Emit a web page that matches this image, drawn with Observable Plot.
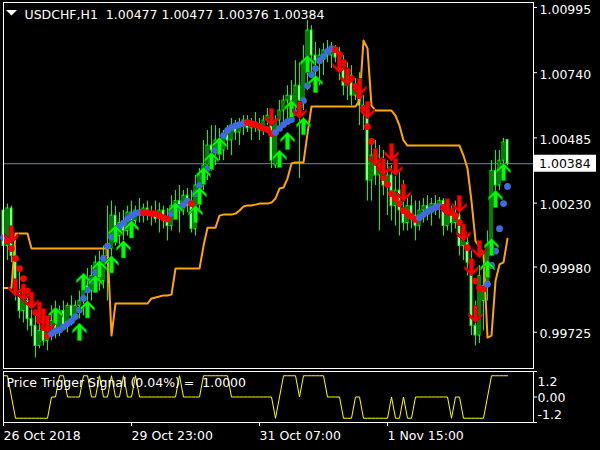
<!DOCTYPE html>
<html>
<head>
<meta charset="utf-8">
<script src="https://cdn.jsdelivr.net/npm/d3@7"></script>
<script src="https://cdn.jsdelivr.net/npm/@observablehq/plot@0.6"></script>
<style>
  body { margin: 0; background: #000; }
  #wrap { position: relative; width: 600px; height: 450px; overflow: hidden; background: #000; }
  #main, #sub { position: absolute; left: 0; }
  #main { top: 0; }
  #sub { top: 369px; }
  #tri { position: absolute; left: 6px; top: 10px; }
</style>
</head>
<body>
<div id="wrap">
  <div id="main"></div>
  <div id="sub"></div>
  <svg id="tri" width="12" height="6"><polygon points="0,0 11,0 5.5,5.5" fill="white"/></svg>
</div>
<script>
const titleText = "USDCHF,H1\u00a0 1.00477 1.00477 1.00376 1.00384";
const subTitle = "Price Trigger Signal (0.04%) =\u00a0 1.0000";
const priceTicks = [1.00995, 1.00740, 1.00485, 1.00230, 0.99980, 0.99725];
const lastClose = 1.00384;
const timeTickBars = [0, 32, 64, 96];
const timeLabels = ["26 Oct 2018", "29 Oct 23:00", "31 Oct 07:00", "1 Nov 15:00"];

const open = [
1.00201,1.00062,1.00209,1.00023,0.99886,0.99808,0.99847,0.99777,0.99750,0.99671,
0.99730,0.99691,0.99750,0.99769,0.99730,0.99808,0.99750,0.99828,0.99789,0.99828,
0.99847,0.99906,0.99886,0.99945,0.99997,0.99925,1.00023,1.00050,1.00181,1.00101,
1.00152,1.00121,1.00193,1.00160,1.00201,1.00181,1.00209,1.00181,1.00193,1.00168,
1.00201,1.00160,1.00140,1.00218,1.00238,1.00201,1.00259,1.00238,1.00129,1.00299,
1.00338,1.00377,1.00455,1.00436,1.00475,1.00436,1.00494,1.00475,1.00522,1.00506,
1.00533,1.00553,1.00522,1.00545,1.00533,1.00514,1.00553,1.00572,1.00377,1.00553,
1.00592,1.00631,1.00650,1.00611,1.00689,1.00631,1.00787,1.00905,1.00807,1.00787,
1.00807,1.00827,1.00807,1.00834,1.00799,1.00748,1.00689,1.00729,1.00650,1.00689,
1.00611,1.00592,1.00318,1.00416,1.00338,1.00396,1.00299,1.00338,1.00218,1.00279,
1.00201,1.00152,1.00218,1.00181,1.00140,1.00201,1.00218,1.00193,1.00226,1.00209,
1.00238,1.00140,1.00201,1.00152,1.00181,1.00062,1.00074,0.99997,0.99750,0.99712,
0.99847,0.99906,1.00062,1.00355,1.00299,1.00396,1.00477];
const high = [
1.00238,1.00226,1.00218,1.00062,0.99966,0.99906,0.99886,0.99847,0.99808,0.99769,
0.99789,0.99769,0.99828,0.99847,0.99828,0.99847,0.99839,0.99867,0.99847,0.99886,
0.99925,0.99974,0.99986,1.00023,1.00042,1.00062,1.00218,1.00238,1.00218,1.00193,
1.00201,1.00218,1.00238,1.00218,1.00248,1.00226,1.00238,1.00218,1.00238,1.00230,
1.00218,1.00209,1.00259,1.00279,1.00299,1.00279,1.00287,1.00279,1.00338,1.00365,
1.00475,1.00514,1.00533,1.00533,1.00522,1.00514,1.00533,1.00561,1.00553,1.00561,
1.00572,1.00572,1.00561,1.00584,1.00561,1.00572,1.00600,1.00592,1.00572,1.00631,
1.00650,1.00689,1.00709,1.00787,1.00779,1.00846,1.00944,1.00924,1.00858,1.00834,
1.00854,1.00866,1.00858,1.00846,1.00838,1.00807,1.00779,1.00768,1.00717,1.00740,
1.00650,1.00611,1.00455,1.00475,1.00455,1.00436,1.00396,1.00377,1.00338,1.00355,
1.00318,1.00259,1.00259,1.00238,1.00238,1.00248,1.00259,1.00248,1.00259,1.00252,
1.00248,1.00238,1.00218,1.00238,1.00209,1.00140,1.00101,1.00042,0.99847,0.99986,
0.99966,1.00121,1.00396,1.00436,1.00436,1.00483,1.00477];
const low = [
1.00042,1.00005,0.99997,0.99847,0.99777,0.99761,0.99730,0.99707,0.99624,0.99660,
0.99671,0.99652,0.99691,0.99699,0.99707,0.99730,0.99722,0.99750,0.99769,0.99777,
0.99789,0.99828,0.99847,0.99878,0.99886,0.99894,0.99847,1.00005,1.00062,1.00062,
1.00082,1.00101,1.00121,1.00129,1.00152,1.00152,1.00160,1.00140,1.00152,1.00113,
1.00129,1.00082,1.00121,1.00181,1.00113,1.00181,1.00193,1.00113,1.00101,1.00201,
1.00279,1.00318,1.00355,1.00377,1.00396,1.00396,1.00436,1.00416,1.00475,1.00455,
1.00494,1.00506,1.00475,1.00506,1.00475,1.00494,1.00533,1.00365,1.00365,1.00514,
1.00533,1.00553,1.00592,1.00584,1.00326,1.00592,1.00670,1.00729,1.00709,1.00689,
1.00729,1.00779,1.00756,1.00779,1.00709,1.00650,1.00631,1.00611,1.00631,1.00533,
1.00514,1.00238,1.00238,1.00299,1.00121,1.00259,1.00181,1.00160,1.00140,1.00101,
1.00121,1.00121,1.00129,1.00082,1.00121,1.00152,1.00160,1.00140,1.00181,1.00168,
1.00101,1.00121,1.00113,1.00129,1.00023,1.00005,0.99945,0.99712,0.99671,0.99681,
0.99730,0.99847,1.00023,1.00218,1.00279,1.00338,1.00376];
const close = [
1.00062,1.00209,1.00023,0.99886,0.99808,0.99847,0.99777,0.99750,0.99671,0.99730,
0.99691,0.99750,0.99769,0.99730,0.99808,0.99750,0.99828,0.99789,0.99828,0.99847,
0.99906,0.99886,0.99945,0.99997,0.99925,1.00023,1.00050,1.00181,1.00101,1.00152,
1.00121,1.00193,1.00160,1.00201,1.00181,1.00209,1.00181,1.00193,1.00168,1.00201,
1.00160,1.00140,1.00218,1.00238,1.00201,1.00259,1.00218,1.00129,1.00299,1.00338,
1.00377,1.00455,1.00436,1.00475,1.00436,1.00494,1.00475,1.00522,1.00506,1.00533,
1.00553,1.00522,1.00545,1.00533,1.00514,1.00553,1.00572,1.00396,1.00553,1.00592,
1.00631,1.00650,1.00611,1.00689,1.00631,1.00787,1.00905,1.00807,1.00787,1.00807,
1.00827,1.00807,1.00834,1.00799,1.00748,1.00689,1.00729,1.00650,1.00689,1.00611,
1.00592,1.00318,1.00416,1.00338,1.00396,1.00299,1.00338,1.00218,1.00279,1.00201,
1.00152,1.00218,1.00181,1.00140,1.00201,1.00218,1.00193,1.00226,1.00209,1.00238,
1.00140,1.00201,1.00152,1.00181,1.00062,1.00082,0.99997,0.99750,0.99712,0.99945,
0.99906,1.00062,1.00355,1.00299,1.00396,1.00467,1.00384];

const trailLine = [
0.99898,0.99898,0.99898,1.00111,1.00111,1.00111,1.00111,1.00052,1.00052,1.00052,
1.00052,1.00052,1.00052,1.00052,1.00052,1.00052,1.00052,1.00052,1.00052,1.00052,
1.00052,1.00052,1.00052,1.00052,1.00052,1.00052,1.00052,0.99712,0.99837,0.99837,
0.99837,0.99837,0.99837,0.99837,0.99837,0.99837,0.99837,0.99857,0.99861,0.99865,
0.99869,0.99869,0.99872,0.99974,0.99974,0.99974,0.99974,0.99974,0.99974,0.99974,
1.00062,1.00134,1.00134,1.00134,1.00181,1.00185,1.00185,1.00185,1.00189,1.00201,
1.00217,1.00221,1.00221,1.00224,1.00228,1.00228,1.00228,1.00232,1.00248,1.00287,
1.00291,1.00326,1.00385,1.00389,1.00389,1.00389,1.00502,1.00608,1.00608,1.00608,
1.00608,1.00608,1.00608,1.00608,1.00608,1.00608,1.00608,1.00608,1.00608,1.00631,
1.00866,1.00835,1.00611,1.00592,1.00592,1.00592,1.00592,1.00592,1.00572,1.00533,
1.00475,1.00455,1.00455,1.00455,1.00455,1.00455,1.00455,1.00455,1.00455,1.00455,
1.00455,1.00455,1.00455,1.00455,1.00455,1.00416,1.00365,1.00238,1.00082,1.00056,
1.00033,0.99704,0.99712,0.99925,0.99990,0.99998,1.00091];

const trendDots = [
1.00095,1.00082,1.00052,1.00013,0.99974,0.99935,0.99886,0.99839,0.99802,0.99769,
0.99743,0.99712,0.99720,0.99730,0.99734,0.99746,0.99758,0.99769,0.99786,0.99812,
0.99857,0.99890,0.99925,0.99958,0.99986,1.00013,1.00062,1.00097,1.00117,1.00138,
1.00152,1.00168,1.00181,1.00189,1.00193,1.00193,1.00193,1.00189,1.00189,1.00181,
1.00173,1.00168,1.00189,1.00201,1.00213,1.00224,1.00238,1.00228,1.00267,1.00299,
1.00330,1.00365,1.00396,1.00436,1.00471,1.00494,1.00514,1.00526,1.00533,1.00537,
1.00541,1.00545,1.00541,1.00537,1.00530,1.00522,1.00518,1.00502,1.00506,1.00522,
1.00537,1.00549,1.00557,1.00584,1.00611,1.00631,1.00689,1.00733,1.00756,1.00787,
1.00803,1.00823,1.00834,1.00830,1.00811,1.00779,1.00748,1.00717,1.00686,1.00650,
1.00600,1.00529,1.00471,1.00416,1.00373,1.00330,1.00303,1.00267,1.00248,1.00228,
1.00201,1.00189,1.00177,1.00166,1.00173,1.00185,1.00197,1.00205,1.00213,1.00217,
1.00213,1.00201,1.00193,1.00181,1.00154,1.00115,1.00056,0.99998,0.99925,0.99898,
0.99894,0.99913,0.99986,1.00042,1.00130,1.00228,1.00295];
const trendDir = [
1,-1,-1,-1,-1,-1,-1,-1,-1,-1,
-1,-1,1,1,1,1,1,1,1,1,
1,1,1,1,1,1,1,1,1,1,
1,1,1,1,1,-1,-1,-1,-1,-1,
-1,-1,1,1,1,1,1,-1,1,1,
1,1,1,1,1,1,1,1,1,1,
1,-1,-1,-1,-1,-1,-1,-1,1,1,
1,1,1,1,1,1,1,1,1,1,
1,1,1,-1,-1,-1,-1,-1,-1,-1,
-1,-1,-1,-1,-1,-1,-1,-1,-1,-1,
-1,-1,-1,-1,1,1,1,1,1,1,
-1,-1,-1,-1,-1,-1,-1,-1,-1,-1,
-1,1,1,1,1,1,1];

const upBars = [13,19,20,21,23,24,27,28,30,32,43,48,49,50,52,54,69,71,72,75,76,78,121,122,123,125];
const upPrices = [0.99822,0.99759,0.99955,0.99847,0.99947,1.00005,1.00023,1.00142,1.00082,1.00160,1.00232,1.00220,1.00291,1.00369,1.00428,1.00486,1.00436,1.00506,1.00631,1.00564,1.00807,1.00729,1.00005,1.00091,1.00279,1.00385];
const downBars = [2,3,5,7,9,10,11,67,74,84,86,89,91,93,95,97,98,100,111,114,115,117,118,119];
const downPrices = [1.00074,0.99867,0.99847,0.99816,0.99777,0.99751,0.99724,1.00533,1.00561,1.00740,1.00690,1.00651,1.00561,1.00377,1.00338,1.00396,1.00338,1.00238,1.00181,1.00193,1.00082,0.99947,0.99763,1.00017];

const signal = [
1,1,0,-1,-1,-1,-1,-1,-1,-1,
-1,-1,0,0,1,1,0,0,0,0,
1,1,0,0,1,0,0,1,0,0,
1,0,0,1,0,0,0,0,0,0,
0,0,0,0,1,0,0,0,0,0,
1,1,1,1,1,1,1,0,0,0,
0,0,0,0,0,0,0,0,-1,0,
1,1,1,1,0,1,1,1,1,1,
1,0,0,0,0,-1,-1,-1,0,0,
-1,-1,-1,-1,-1,-1,-1,0,-1,-1,
0,-1,-1,0,0,0,0,0,0,0,
0,0,-1,0,0,-1,-1,-1,-1,-1,
-1,0,1,1,1,1,1];
const subTicks = [1.2, 0, -1.2];
const subTickLabels = ["1.2", "0.00", "-1.2"];

// ---- build rows ----
const bars = open.map((o, i) => ({i, open: o, high: high[i], low: low[i], close: close[i]}));
const trailRows = trailLine.map((v, i) => ({i, v}));
const dotRows = trendDots.map((v, i) => ({i, v, t: trendDir[i]}));
const upRows = upBars.map((b, k) => ({i: b, p: upPrices[k]}));
const downRows = downBars.map((b, k) => ({i: b, p: downPrices[k]}));
const sigRows = signal.map((s, i) => ({i, s}));

const upArrow = {draw(c) {
  c.moveTo(0, -9); c.lineTo(7, -2); c.lineTo(7, 1); c.lineTo(2.2, -3.6);
  c.lineTo(2.2, 8.5); c.lineTo(-2.2, 8.5); c.lineTo(-2.2, -3.6); c.lineTo(-7, 1);
  c.lineTo(-7, -2); c.closePath();
}};
const downArrow = {draw(c) {
  c.moveTo(0, 9); c.lineTo(7, 2); c.lineTo(7, -1); c.lineTo(2.2, 3.6);
  c.lineTo(2.2, -8.5); c.lineTo(-2.2, -8.5); c.lineTo(-2.2, 3.6); c.lineTo(-7, -1);
  c.lineTo(-7, 2); c.closePath();
}};

const font = {background: "black", color: "white", fontFamily: "DejaVu Sans", fontSize: "12.5px", overflow: "visible"};
const xDomain = [0, 132.5];

function priceBox(index, scales, values, dims) {
  const g = d3.create("svg:g");
  if (typeof scales.y !== "function") return g.node();
  const y = scales.y(lastClose);
  const x0 = dims.width - dims.marginRight;
  g.append("rect").attr("x", x0 + 1).attr("y", y - 8.5).attr("width", 62).attr("height", 17).attr("fill", "white");
  g.append("text").attr("x", x0 + 6).attr("y", y).attr("dy", "0.36em").attr("fill", "black")
    .attr("text-anchor", "start")
    .attr("font-family", "DejaVu Sans").attr("font-size", "12.5px").text(lastClose.toFixed(5));
  return g.node();
}

const main = Plot.plot({
  width: 600, height: 369,
  marginTop: 2, marginBottom: 1, marginLeft: 3, marginRight: 67,
  x: {domain: xDomain, axis: null},
  y: {domain: [0.995831, 1.010146], axis: null},
  style: font,
  marks: [
    Plot.ruleY([lastClose], {stroke: "#778899"}),
    Plot.ruleX(bars, {x: "i", y1: "low", y2: "high", stroke: "#00ff00"}),
    Plot.rect(bars, {x1: d => d.i - 0.25, x2: d => d.i + 0.25, y1: "open", y2: "close",
      fill: d => d.close > d.open ? "black" : "white", stroke: "#00ff00"}),
    Plot.line(trailRows, {x: "i", y: "v", stroke: "#ffa500", strokeWidth: 2}),
    Plot.dot(dotRows, {x: "i", y: "v", r: 3.4, fill: d => d.t > 0 ? "#4169e1" : "#ff0000"}),
    Plot.dot(upRows, {x: "i", y: "p", symbol: upArrow, dy: 8.5, fill: "#00ff00", stroke: "#0a8a0a", strokeWidth: 0.8}),
    Plot.dot(downRows, {x: "i", y: "p", symbol: downArrow, dy: -8.5, fill: "#ff0000", stroke: "#9a0000", strokeWidth: 0.8}),
    Plot.frame({stroke: "white"}),
    Plot.axisY({anchor: "right", ticks: priceTicks, tickSize: 3, tickFormat: () => "", label: null}),
    Plot.text(priceTicks, {y: d => d, text: d => d.toFixed(5), frameAnchor: "right", dx: 6, dy: 2, textAnchor: "start", fill: "white"}),
    Plot.text([titleText], {text: d => d, frameAnchor: "top-left", dx: 21, dy: 7.3, lineAnchor: "top", textAnchor: "start", fill: "white"}),
    priceBox
  ]
});
document.getElementById("main").append(main);

const sub = Plot.plot({
  width: 600, height: 81,
  marginTop: 2, marginBottom: 28, marginLeft: 3, marginRight: 67,
  x: {domain: xDomain, axis: null},
  y: {domain: [-1.2, 1.2], axis: null},
  style: font,
  marks: [
    Plot.line(sigRows, {x: "i", y: "s", stroke: "#ffff00", strokeWidth: 1}),
    Plot.frame({stroke: "white"}),
    Plot.text([subTitle], {text: d => d, frameAnchor: "top-left", dx: 3, dy: 6.7, lineAnchor: "top", textAnchor: "start", fill: "white"}),
    Plot.axisY({anchor: "right", ticks: subTicks, tickSize: 3, tickFormat: () => "", label: null}),
    Plot.text([subTicks[0]], {y: d => d, text: () => subTickLabels[0], frameAnchor: "right", dx: 4, dy: 10, textAnchor: "start", fill: "white"}),
    Plot.text([subTicks[1]], {y: d => d, text: () => subTickLabels[1], frameAnchor: "right", dx: 4, dy: 1.3, textAnchor: "start", fill: "white"}),
    Plot.text([subTicks[2]], {y: d => d, text: () => subTickLabels[2], frameAnchor: "right", dx: 4, dy: -7.5, textAnchor: "start", fill: "white"}),
    Plot.axisX({anchor: "bottom", ticks: timeTickBars, tickSize: 4, tickFormat: () => "", label: null}),
    Plot.text(timeTickBars, {x: d => d, text: d => timeLabels[timeTickBars.indexOf(d)], frameAnchor: "bottom", dy: 9, lineAnchor: "top", textAnchor: "start", fill: "white"})
  ]
});
document.getElementById("sub").append(sub);
</script>
</body>
</html>
